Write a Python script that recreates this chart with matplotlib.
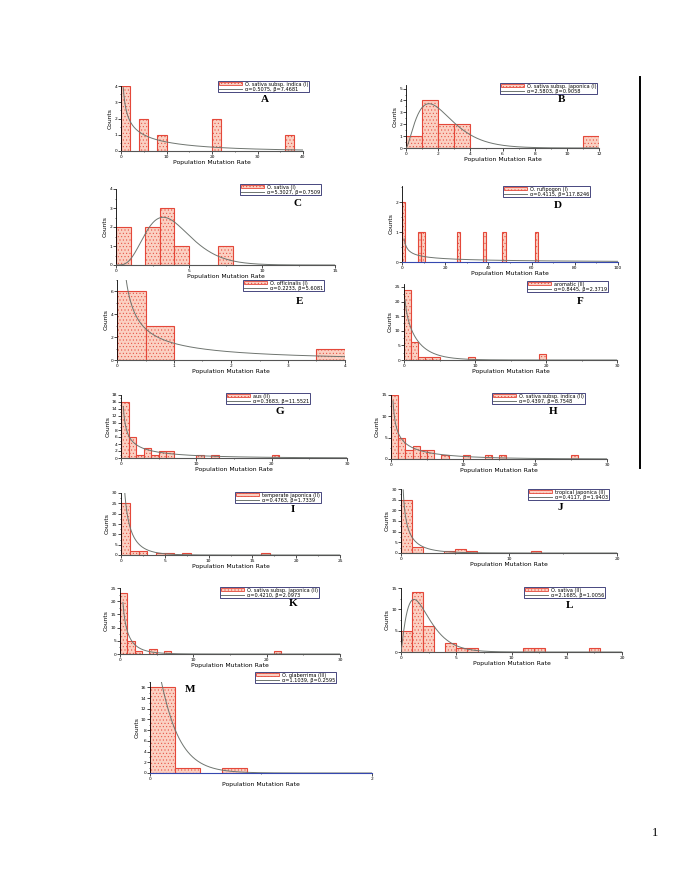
import math
import numpy as np
import matplotlib
matplotlib.use("Agg")
import matplotlib.pyplot as plt
from matplotlib.patches import Patch
from matplotlib.lines import Line2D
from matplotlib.ticker import AutoMinorLocator

plt.rcParams['font.family'] = ['DejaVu Sans']
plt.rcParams['hatch.linewidth'] = 0.35

W, H = 685, 886

# --- data: bin left edges, counts, bin width ---
a_left, a_counts, a_bw = [0, 4, 8, 20, 36], [4, 2, 1, 2, 1], 2
b_left, b_counts, b_bw = [0, 1, 2, 3, 11], [1, 4, 2, 2, 1], 1
c_left, c_counts, c_bw = [0, 2, 3, 4, 7], [2, 2, 3, 1, 1], 1
d_left, d_counts, d_bw = [0, 7.5, 9, 25.5, 37.5, 46.5, 61.5], [2, 1, 1, 1, 1, 1, 1], 1.5
e_left, e_counts, e_bw = [0, 0.5, 3.5], [6, 3, 1], 0.5
f_left, f_counts, f_bw = [0, 1, 2, 3, 4, 9, 19], [24, 6, 1, 1, 1, 1, 2], 1
g_left, g_counts, g_bw = [0, 1, 2, 3, 4, 5, 6, 10, 12, 20], [16, 6, 1, 3, 1, 2, 2, 1, 1, 1], 1
h_left, h_counts, h_bw = [0, 1, 2, 3, 4, 5, 7, 10, 13, 15, 25], [15, 5, 2, 3, 2, 2, 1, 1, 1, 1, 1], 1
i_left, i_counts, i_bw = [0, 1, 2, 4, 5, 7, 16], [25, 2, 2, 1, 1, 1, 1], 1
j_left, j_counts, j_bw = [0, 1, 4, 5, 6, 12], [25, 3, 1, 2, 1, 1], 1
k_left, k_counts, k_bw = [0, 1, 2, 4, 6, 21], [23, 5, 1, 2, 1, 1], 1
l_left, l_counts, l_bw = [0, 1, 2, 4, 5, 6, 11, 12, 17], [5, 14, 6, 2, 1, 1, 1, 1, 1], 1
m_left, m_counts, m_bw = [0, 0.225, 0.65], [16, 1, 1], 0.225

# legend texts
names = ["O. sativa subsp. indica (I)", "O. sativa subsp. japonica (I)", "O. sativa (I)",
         "O. rufipogon (I)", "O. officinalis (I)", "aromatic (II)", "aus (II)",
         "O. sativa subsp. indica (II)", "temperate japonica (II)", "tropical japonica (II)",
         "O. sativa subsp. japonica (II)", "O. sativa (II)", "O. glaberrima (III)"]
params = ["α=0.5075, β=7.4681", "α=2.5803, β=0.9058", "α=5.3027, β=0.7509",
          "α=0.4115, β=117.8246", "α=0.2233, β=5.6081", "α=0.8445, β=2.3719",
          "α=0.3683, β=11.5521", "α=0.4397, β=8.7548", "α=0.4763, β=1.7339",
          "α=0.4117, β=1.9403", "α=0.4210, β=2.0973", "α=2.1685, β=1.0056",
          "α=1.1039, β=0.2595"]

# fitted gamma curve as drawn: shape, scale, count scaling, first x
fit_a = [0.5075, 2.5803, 5.3027, 0.4115, 0.2233, 0.8445, 0.3683, 0.4397, 0.4763, 0.4117, 0.4210, 2.1685, 1.1039]
fit_b = [20.0, 0.9058, 0.7509, 117.8246, 5.6081, 2.3719, 11.5521, 8.7548, 1.7339, 1.9403, 2.0973, 1.0056, 0.15]
fit_s = [22.7, 11.2, 10.0, 12.0, 10.5, 38.0, 42.0, 36.0, 60.0, 36.0, 40.0, 36.0, 5.0]
fit_x0 = [0.5, 0.001, 0.001, 1.0, 0.16, 0.15, 0.3, 0.28, 0.3, 0.2, 0.4, 0.001, 0.08]

letters = list("ABCDEFGHIJKLM")
lefts = [a_left, b_left, c_left, d_left, e_left, f_left, g_left, h_left, i_left, j_left, k_left, l_left, m_left]
counts = [a_counts, b_counts, c_counts, d_counts, e_counts, f_counts, g_counts, h_counts,
          i_counts, j_counts, k_counts, l_counts, m_counts]
widths = [a_bw, b_bw, c_bw, d_bw, e_bw, f_bw, g_bw, h_bw, i_bw, j_bw, k_bw, l_bw, m_bw]

xlims = [40, 12, 15, 100, 4, 30, 30, 30, 25, 20, 30, 20, 2]
xticks = [[0, 10, 20, 30, 40], list(range(0, 13, 2)), [0, 5, 10, 15], list(range(0, 101, 20)),
          [0, 1, 2, 3, 4], [0, 10, 20, 30], [0, 10, 20, 30], [0, 10, 20, 30],
          list(range(0, 26, 5)), [0, 10, 20], [0, 10, 20, 30], list(range(0, 21, 5)), [0, 2]]
ylims = [4, 5.3, 4, 2.55, 7, 26, 18, 15, 30, 30, 25, 15, 17]
yticks = [[0, 1, 2, 3, 4], [0, 1, 2, 3, 4, 5], [0, 1, 2, 3, 4], [0, 1, 2], [0, 2, 4, 6],
          list(range(0, 26, 5)), list(range(0, 19, 2)), [0, 5, 10, 15], list(range(0, 31, 5)),
          list(range(0, 31, 5)), list(range(0, 26, 5)), [0, 5, 10, 15], list(range(0, 17, 2))]

# --- page layout in pixels: axes (left, right, bottom, top), legend top-left, letter pos ---
boxes = [(121, 303, 151, 86), (406, 599, 148, 85), (116, 335, 265, 189), (402, 618, 262, 186),
         (117, 345, 360, 280), (404, 617, 360, 284), (121, 347, 458, 395), (391, 607, 459, 395),
         (121, 340, 555, 493), (401, 617, 553, 489), (120, 340, 654, 588), (401, 622, 652, 588),
         (150, 372, 773, 682)]
leg_pos = [(218, 81), (500, 83), (240, 184), (503, 186), (243, 280), (527, 281), (226, 393),
           (492, 393), (235, 492), (528, 489), (220, 587), (524, 587), (255, 672)]
let_pos = [(265, 100), (562, 100), (297, 204), (558, 206), (300, 301), (580, 301), (280, 411),
           (553, 411), (293, 509), (560, 507), (293, 604), (570, 605), (190, 689)]


def gamma_pdf(x, a, b):
    return x ** (a - 1) * np.exp(-x / b) / (math.gamma(a) * b ** a)


fig = plt.figure(figsize=(W / 100, H / 100), dpi=100)
bar_face = '#fbd0c2'
bar_edge = '#e4483a'
curve_col = '#6f7570'

for n in range(13):
    l, r, b, t = boxes[n]
    ax = fig.add_axes([l / W, 1 - b / H, (r - l) / W, (b - t) / H])
    ax.bar(lefts[n], counts[n], width=widths[n], align='edge', facecolor=bar_face,
           edgecolor=bar_edge, hatch='.....', linewidth=0.8, zorder=2)
    xs = np.linspace(fit_x0[n], xlims[n], 600)
    ax.plot(xs, fit_s[n] * gamma_pdf(xs, fit_a[n], fit_b[n]), color=curve_col, lw=0.7, zorder=3)
    ax.set_xlim(0, xlims[n])
    ax.set_ylim(0, ylims[n])
    ax.set_xticks(xticks[n])
    ax.set_yticks(yticks[n])
    ax.xaxis.set_minor_locator(AutoMinorLocator(2))
    ax.yaxis.set_minor_locator(AutoMinorLocator(2))
    ax.tick_params(which='major', length=2, width=0.5, labelsize=3.2, pad=0.8)
    ax.tick_params(which='minor', length=1, width=0.4)
    for s in ['top', 'right']:
        ax.spines[s].set_visible(False)
    ax.spines['left'].set_linewidth(0.6)
    ax.spines['bottom'].set_linewidth(0.8)
    if n in (3, 12):
        ax.spines['bottom'].set_color('#3548b0')
    else:
        ax.spines['bottom'].set_color('#555555')
    ax.set_ylabel('Counts', fontsize=4.3, labelpad=1)
    ax.set_xlabel('Population Mutation Rate', fontsize=4.4, labelpad=0.5)
    ax.patch.set_alpha(0)

    handles = [Patch(facecolor=bar_face, edgecolor=bar_edge, hatch='.....', linewidth=0.6),
               Line2D([], [], color=curve_col, lw=0.7)]
    lx, ly = leg_pos[n]
    fig.legend(handles, [names[n], params[n]], loc='upper left',
               bbox_to_anchor=(lx / W, 1 - ly / H), fontsize=3.6, frameon=True,
               fancybox=False, edgecolor='#2a2a6a', framealpha=1, borderpad=0.12,
               handlelength=4.6, handleheight=0.55, labelspacing=0.0,
               handletextpad=0.7, borderaxespad=0).get_frame().set_linewidth(0.6)
    px, py = let_pos[n]
    fig.text(px / W, 1 - py / H, letters[n], family=['Liberation Serif', 'DejaVu Serif'],
             fontsize=8, fontweight='bold', ha='center', va='center')

# right-hand rule line and page number
fig.add_artist(Line2D([640 / W, 640 / W], [1 - 77 / H, 1 - 468 / H], color='black', lw=1.4))
fig.text(655 / W, 1 - 833 / H, '1', family=['Liberation Serif', 'DejaVu Serif'], fontsize=9,
         ha='center', va='center')

fig.savefig('out.png', dpi=100)
